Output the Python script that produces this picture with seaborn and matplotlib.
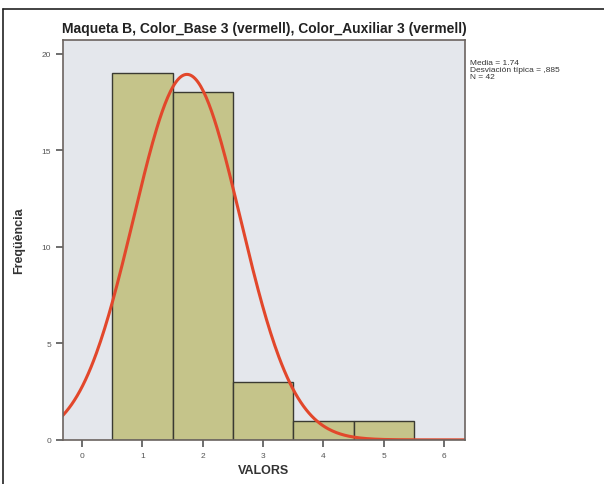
import numpy as np
import pandas as pd
import matplotlib
matplotlib.use("Agg")
import matplotlib.pyplot as plt
import seaborn as sns

valors = [1, 2, 3, 4, 5]
freq = [19, 18, 3, 1, 1]
bins = [0.5, 1.5, 2.5, 3.5, 4.5, 5.5]

sns.set_style("ticks")
plt.rcParams['font.family'] = ['Liberation Sans', 'DejaVu Sans']

n = sum(freq)
mitja = np.average(valors, weights=freq)
desv = np.sqrt(np.sum(np.array(freq) * (np.array(valors) - mitja) ** 2) / (n - 1))

fig = plt.figure(figsize=(6.04, 4.85), dpi=100)
ax = fig.add_axes([0.104, 0.091, 0.666, 0.824])
ax.set_facecolor('#e4e7ec')

sns.histplot(x=valors, weights=freq, bins=bins, ax=ax, color='#c5c48a', alpha=1,
             edgecolor='#3a3a32', linewidth=1.0)

xs = np.linspace(-0.4, 6.4, 300)
ys = n * np.exp(-0.5 * ((xs - mitja) / desv) ** 2) / (desv * np.sqrt(2 * np.pi))
sns.lineplot(x=xs, y=ys, ax=ax, color='#e2472b', linewidth=2.2)

ax.set_xlim(-0.32, 6.35)
ax.set_ylim(0, 20.7)
ax.set_xticks(range(0, 7))
ax.set_yticks([0, 5, 10, 15, 20])
ax.tick_params(axis='both', labelsize=6, colors='#555555', length=5, width=1.2)
for s in ax.spines.values():
    s.set_color('#6b6460')
    s.set_linewidth(1.2)

ax.set_xlabel('VALORS', fontsize=9, fontweight='bold', color='#333333')
ax.set_ylabel('Freqüència', fontsize=9, fontweight='bold', color='#333333', labelpad=12)
ax.set_title('Maqueta B, Color_Base 3 (vermell), Color_Auxiliar 3 (vermell)',
             fontsize=10, fontweight='bold', color='#222222', pad=6)

txt = 'Media = %.2f\nDesviación típica = ,%03d\nN = %d' % (mitja, round(desv * 1000), n)
fig.text(0.778, 0.877, txt, fontsize=6, color='#333333', va='top', ha='left', linespacing=1.05)

# marc exterior
fig.add_artist(plt.Line2D([0.005, 0.005], [0.0, 0.98], color='#222222', linewidth=1.2))
fig.add_artist(plt.Line2D([0.005, 1.0], [0.98, 0.98], color='#222222', linewidth=1.2))

fig.savefig('out.png', dpi=100)
